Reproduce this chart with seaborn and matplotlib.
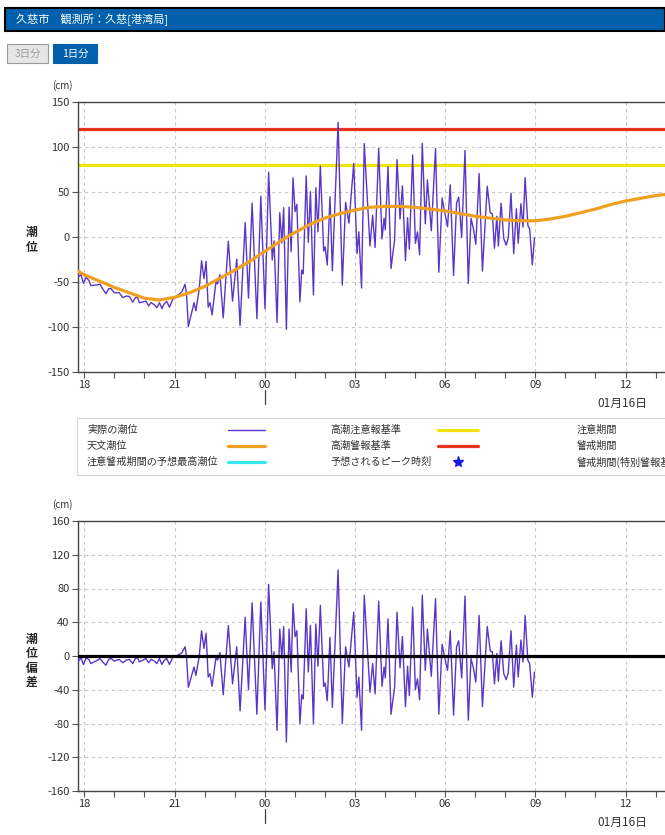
import numpy as np
import pandas as pd
import matplotlib
matplotlib.use('Agg')
import matplotlib.pyplot as plt
import seaborn as sns
from matplotlib.lines import Line2D
from matplotlib.patches import Rectangle

# hours counted from 00:00 on 01/15 (24 = 00:00 on 01/16)
dev_hours = [17.81, 17.89, 17.97, 18.06, 18.15, 18.22, 18.33, 18.44, 18.52, 18.61,
             18.72, 18.81, 18.89, 19.00, 19.08, 19.16, 19.28, 19.39, 19.50, 19.61,
             19.70, 19.77, 19.83, 19.94, 20.05, 20.14, 20.22, 20.33, 20.41, 20.50,
             20.58, 20.66, 20.74, 20.83, 20.94, 21.05, 21.16, 21.25, 21.35, 21.40,
             21.46,
             21.57, 21.65, 21.71, 21.82, 21.90, 21.98, 22.05, 22.12, 22.18, 22.25,
             22.38, 22.43, 22.51, 22.62, 22.79, 22.93, 23.07, 23.18, 23.35, 23.46,
             23.58, 23.74, 23.87, 24.01, 24.13, 24.25, 24.31, 24.41, 24.50, 24.57,
             24.63, 24.72, 24.81, 24.88, 24.94, 25.01, 25.07, 25.17, 25.23, 25.28,
             25.38, 25.45, 25.52, 25.62, 25.70, 25.77, 25.85, 25.96, 26.01, 26.08,
             26.17, 26.25, 26.44, 26.58, 26.69, 26.80, 26.96, 27.07, 27.13, 27.22,
             27.31, 27.50, 27.59, 27.67, 27.79, 27.90, 27.97, 28.01, 28.10, 28.20,
             28.32, 28.40, 28.50, 28.58, 28.68, 28.75, 28.81, 28.92, 29.01, 29.08,
             29.15, 29.24, 29.34, 29.41, 29.54, 29.68, 29.79, 29.90, 29.97, 30.08,
             30.17, 30.28, 30.38, 30.45, 30.55, 30.66, 30.77, 30.86, 30.94, 31.02,
             31.13, 31.24, 31.40, 31.50, 31.57, 31.64, 31.72, 31.77, 31.86, 31.95,
             32.03, 32.10, 32.19, 32.28, 32.37, 32.43, 32.52, 32.59, 32.66, 32.75,
             32.81, 32.90, 32.97]
dev_cm = [-6, -2, -10, -2, -4, -9, -7, -5, -3, -7,
          -11, -4, -3, -6, -5, -4, -8, -5, -4, -9,
          -3, -2, -7, -5, -3, -8, -4, -6, -9, -3,
          -10, -5, -3, -10, -2, 0, 2, 4, 11, -1,
          -37,
          -23, -13, -23, -1, 30, 9, 27, -25, -21, -36,
          -1, -5, 4, -46, 36, -33, 11, -65, 46, -40,
          63, -69, 64, -64, 85, -15, 5, -88, 32, -3,
          35, -102, 32, -19, 62, 23, 30, -80, -46, -51,
          56, -19, 36, -80, 38, -12, 60, -36, -32, -53,
          22, -61, 102, -80, 11, -13, 52, -49, -25, -88,
          72, -43, -9, -45, 65, -36, -13, -26, 44, -69,
          -37, 52, -14, 23, -60, -12, -47, 58, -40, -27,
          -52, 72, -17, 32, -24, 68, -69, 14, 1, -17,
          30, -70, 11, 18, -26, 71, -76, -3, -14, -31,
          48, -60, 35, 6, 5, -33, 3, -30, 18, -21,
          -28, -20, 30, -37, 13, -25, 19, -7, 48, -5,
          -9, -49, -19]

astro_hours = [17.8, 18.0, 18.5, 19.0, 19.5, 20.0, 20.5, 21.0, 21.5, 22.0,
               22.5, 23.0, 23.5, 24.0, 24.5, 25.0, 25.5, 26.0, 26.5, 27.0,
               27.5, 28.0, 28.5, 29.0, 29.5, 30.0, 30.5, 31.0, 31.5, 32.0,
               32.5, 33.0, 33.5, 34.0, 34.5, 35.0, 35.5, 36.0, 36.5, 37.0, 37.5]
astro_cm = [-38, -42, -49, -56, -62, -68, -70, -67, -62, -55,
            -46, -37, -27, -16, -5, 5, 14, 21, 26, 30,
            33, 34, 34, 33, 31, 29, 26, 23, 21, 19,
            18, 18, 20, 23, 27, 31, 36, 40, 43, 46, 48]

caution_level = 80
warning_level = 120

tick_hours = [18, 21, 24, 27, 30, 33, 36]
tick_labels = ['18', '21', '00', '03', '06', '09', '12']

legend_labels = [['実際の潮位', '天文潮位', '注意警戒期間の予想最高潮位'],
                 ['高潮注意報基準', '高潮警報基準', '予想されるピーク時刻'],
                 ['注意期間', '警戒期間', '警戒期間(特別警報基準)']]

C_OBS = '#5a36c8'
C_ASTRO = '#f0a020'
C_CAUTION = '#f2e40c'
C_WARN = '#e8321e'
C_PEAKLVL = '#3ce6f0'
C_BLUE = '#0060ac'

sns.set_style('white')
plt.rcParams['font.family'] = ['Noto Sans CJK JP', 'DejaVu Sans']
plt.rcParams['axes.unicode_minus'] = False

W, H = 665, 835
fig = plt.figure(figsize=(W / 100, H / 100), dpi=100)


def fx(px):
    return px / W


def fy(py):
    return 1 - py / H


# observed level = astronomical tide + deviation
obs_df = pd.DataFrame({'hour': dev_hours, 'dev': dev_cm})
obs_df['level'] = np.interp(obs_df['hour'], astro_hours, astro_cm) + obs_df['dev']
astro_df = pd.DataFrame({'hour': astro_hours, 'level': astro_cm})

x0 = 18 - (84.3 - 78) / 30.07
x1 = 18 + (665 - 84.3) / 30.07


def style_axes(ax, yticks):
    ax.set_xlim(x0, x1)
    ax.set_ylim(yticks[0], yticks[-1])
    ax.set_xticks(tick_hours)
    ax.set_xticklabels(tick_labels)
    ax.set_xticks(np.arange(18, 38), minor=True)
    ax.set_yticks(yticks)
    ax.grid(True, which='major', ls=(0, (3, 3)), color='#c8c8c8', lw=0.8)
    ax.tick_params(axis='both', which='both', direction='out', length=4, width=0.8,
                   color='#555555', labelcolor='#333333', labelsize=8, pad=2,
                   bottom=True, left=True)
    for side in ['left', 'top', 'bottom']:
        ax.spines[side].set_color('#444444')
        ax.spines[side].set_linewidth(1.0)
    ax.spines['right'].set_visible(False)
    ax.set_xlabel('')
    ax.set_ylabel('')


# --- top: tide level
ax1 = fig.add_axes([fx(78), fy(372), fx(665) - fx(78), 270 / H])
ax1.axhline(warning_level, color=C_WARN, lw=2.3, zorder=2)
ax1.axhline(caution_level, color=C_CAUTION, lw=2.3, zorder=2)
sns.lineplot(data=obs_df, x='hour', y='level', ax=ax1, color=C_OBS, lw=1.0,
             estimator=None, sort=False, zorder=3)
sns.lineplot(data=astro_df, x='hour', y='level', ax=ax1, color=C_ASTRO, lw=2.3,
             estimator=None, sort=False, zorder=4)
style_axes(ax1, np.arange(-150, 151, 50))

# --- bottom: deviation
ax2 = fig.add_axes([fx(78), fy(791), fx(665) - fx(78), 270 / H])
sns.lineplot(data=obs_df, x='hour', y='dev', ax=ax2, color=C_OBS, lw=1.0,
             estimator=None, sort=False, zorder=3)
ax2.axhline(0, color='black', lw=2.3, zorder=4)
style_axes(ax2, np.arange(-160, 161, 40))

# axis captions
fig.text(fx(62), fy(86), '(cm)', ha='center', va='center', fontsize=7, color='#333333')
fig.text(fx(62), fy(505), '(cm)', ha='center', va='center', fontsize=7, color='#333333')
fig.text(fx(32), fy(240), '潮\n位', ha='center', va='center', fontsize=8.5,
         fontweight='bold', linespacing=1.15)
fig.text(fx(32), fy(661), '潮\n位\n偏\n差', ha='center', va='center', fontsize=8.5,
         fontweight='bold', linespacing=1.15)

# date markers
for ytxt, ylo, yhi in [(403, 390, 404), (822, 809, 823)]:
    fig.text(fx(597), fy(ytxt), '01月16日', ha='left', va='center', fontsize=8.5,
             color='#333333')
    fig.add_artist(Line2D([fx(265), fx(265)], [fy(ylo), fy(yhi)], color='#444444', lw=0.9))

# header bar and buttons
fig.add_artist(Rectangle((fx(5), fy(31)), fx(665) - fx(5), 23 / H, facecolor=C_BLUE,
                         edgecolor='black', lw=1.5))
fig.text(fx(16), fy(19.5), '久慈市　観測所：久慈[港湾局]', color='white', fontsize=8,
         va='center', ha='left')
fig.add_artist(Rectangle((fx(7), fy(63)), fx(41), 19 / H, facecolor='#e6e6e6',
                         edgecolor='#9a9a9a', lw=0.8))
fig.text(fx(27.5), fy(53.5), '3日分', color='#999999', fontsize=7.5, ha='center', va='center')
fig.add_artist(Rectangle((fx(53), fy(63)), fx(44), 19 / H, facecolor=C_BLUE,
                         edgecolor=C_BLUE, lw=0.8))
fig.text(fx(75), fy(53.5), '1日分', color='white', fontsize=7.5, ha='center', va='center')

# legend box (runs off the right edge, as in the page capture)
fig.add_artist(Rectangle((fx(77), fy(475)), fx(700), 57 / H, facecolor='white',
                         edgecolor='#d4d4d4', lw=0.8))
row_y = [430, 446, 462]
col_x = [87, 330, 577]
samples = [[(C_OBS, 1.0), (C_ASTRO, 2.3), (C_PEAKLVL, 2.3)],
           [(C_CAUTION, 2.3), (C_WARN, 2.3), None]]
sample_x = [(228, 265), (438, 478)]
for c, labels in enumerate(legend_labels):
    for r, lab in enumerate(labels):
        fig.text(fx(col_x[c]), fy(row_y[r]), lab, fontsize=7.3, color='#333333',
                 ha='left', va='center')
for c in range(2):
    for r in range(3):
        s = samples[c][r]
        xa, xb = sample_x[c]
        if s is None:
            fig.add_artist(Line2D([fx((xa + xb) / 2)], [fy(row_y[r])], marker='*',
                                  color='#1a1ae0', markersize=8, ls='none'))
        else:
            fig.add_artist(Line2D([fx(xa), fx(xb)], [fy(row_y[r]), fy(row_y[r])],
                                  color=s[0], lw=s[1]))

fig.savefig('out.png', dpi=100)
